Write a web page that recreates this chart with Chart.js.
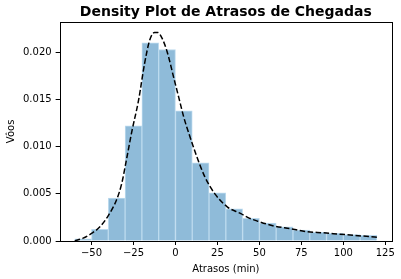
<!DOCTYPE html>
<html>
<head>
<meta charset="utf-8">
<script src="https://cdn.jsdelivr.net/npm/chart.js@4/dist/chart.umd.min.js"></script>
<style>
  html, body { margin: 0; padding: 0; background: #fff; }
</style>
</head>
<body>
<canvas id="myChart" width="401" height="279"></canvas>
<script>
// histogram bins (center of each 10 min bin) and density
var binCenters = [-55, -45, -35, -25, -15, -5, 5, 15, 25, 35, 45, 55, 65, 75, 85, 95, 105, 115];
var binDensity = [0.00022, 0.00124, 0.00454, 0.0122, 0.0210, 0.0203, 0.0138, 0.0083, 0.0051, 0.0034,
                  0.0024, 0.0019, 0.0015, 0.00117, 0.00092, 0.0008, 0.00068, 0.0006];

// kde curve
var kdeX = [-60, -55, -50, -45, -40, -35, -32, -29, -26, -22, -18.5, -15.5, -12.5, -10.5, -8, -5, -1, 2, 5, 8, 12, 17.5, 23.5, 31, 39, 43, 49, 58.5, 68.5, 78, 88, 98, 107, 120];
var kdeY = [0.00003, 0.0003, 0.0008, 0.0015, 0.0027, 0.0044, 0.0061, 0.0088, 0.0116, 0.0149, 0.0187, 0.0212, 0.0221, 0.0221, 0.0215, 0.0201, 0.0173, 0.0152, 0.0131, 0.0114, 0.0093, 0.0068, 0.0050, 0.0036, 0.0029, 0.0025, 0.0021, 0.0016, 0.0013, 0.0010, 0.00087, 0.00072, 0.00059, 0.0004];

var xTicks = [-50, -25, 0, 25, 50, 75, 100, 125];
var yTicks = [0, 0.005, 0.010, 0.015, 0.020];

var histData = binCenters.map(function(c, i){ return {x: c, y: binDensity[i]}; });
var kdeData = kdeX.map(function(v, i){ return {x: v, y: kdeY[i]}; });

// box around the plot (matplotlib spines)
var frame = {
  id: 'frame',
  afterDraw: function(chart){
    var a = chart.chartArea, c = chart.ctx;
    c.save();
    c.strokeStyle = '#000';
    c.lineWidth = 1;
    c.strokeRect(Math.round(a.left) + 0.5, Math.round(a.top) + 0.5, Math.round(a.right - a.left), Math.round(a.bottom - a.top));
    c.restore();
  }
};

var font = {family: 'DejaVu Sans', size: 10};

var ctx = document.getElementById('myChart').getContext('2d');
var myChart = new Chart(ctx, {
  type: 'bar',
  data: {
    datasets: [{
      type: 'line',
      data: kdeData,
      borderColor: '#000',
      borderWidth: 1.5,
      borderDash: [5.5, 2.5],
      pointRadius: 0,
      fill: false,
      cubicInterpolationMode: 'monotone',
      order: 0
    }, {
      type: 'bar',
      data: histData,
      backgroundColor: '#8fbbd9',
      borderColor: '#bcdaee',
      borderWidth: 1,
      barPercentage: 1,
      categoryPercentage: 1,
      order: 1
    }]
  },
  plugins: [frame],
  options: {
    responsive: false,
    animation: false,
    layout: { padding: {left: 5, right: 9, top: 0, bottom: 4} },
    plugins: {
      legend: { display: false },
      tooltip: { enabled: false },
      title: {
        display: true,
        fullSize: false,
        text: 'Density Plot de Atrasos de Chegadas',
        color: '#000',
        font: {family: 'DejaVu Sans', size: 14, weight: 'bold'},
        padding: {top: 4, bottom: 1}
      }
    },
    scales: {
      x: {
        type: 'linear',
        min: -69,
        max: 129,
        offset: false,
        afterBuildTicks: function(scale){ scale.ticks = xTicks.map(function(v){ return {value: v}; }); },
        grid: { display: true, offset: false, drawOnChartArea: false, drawTicks: true, tickLength: 4, color: '#000' },
        border: { display: false },
        ticks: { color: '#000', font: font, padding: 2, maxRotation: 0, autoSkip: false,
                 callback: function(v){ return String(v).replace('-', '\u2212'); } },
        title: { display: true, text: 'Atrasos (min)', color: '#000', font: font, padding: {top: 2, bottom: 0} }
      },
      y: {
        min: 0,
        max: 0.02324,
        afterBuildTicks: function(scale){ scale.ticks = yTicks.map(function(v){ return {value: v}; }); },
        grid: { display: true, drawOnChartArea: false, drawTicks: true, tickLength: 4, color: '#000' },
        border: { display: false },
        ticks: { color: '#000', font: font, padding: 4, autoSkip: false,
                 callback: function(v){ return v.toFixed(3); } },
        title: { display: true, text: 'V\u00f4os', color: '#000', font: font, padding: {top: 0, bottom: 2} }
      }
    }
  }
});
</script>
</body>
</html>
